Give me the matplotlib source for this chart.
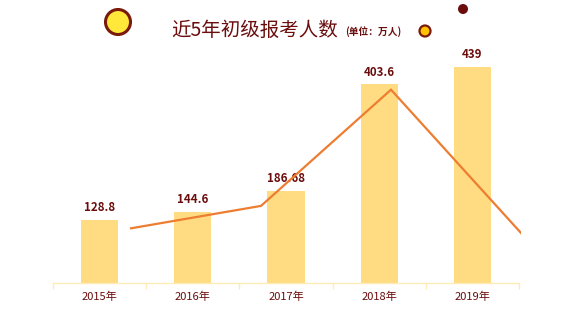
import matplotlib
matplotlib.use("Agg")
import matplotlib.pyplot as plt
from matplotlib.patches import Circle

plt.rcParams['font.family'] = ['Noto Sans CJK SC', 'DejaVu Sans']

# data
years = ['2015年', '2016年', '2017年', '2018年', '2019年']
applicants = [128.8, 144.6, 186.68, 403.6, 439]
value_labels = ['128.8', '144.6', '186.68', '403.6', '439']
growth_idx = [1, 2, 3, 4]
growth = [12.3, 29.1, 116.2, 8.8]

dark_red = '#6b0d0d'
bar_color = '#FFDC82'
line_color = '#ED7D31'

W, H = 584, 323
fig = plt.figure(figsize=(W / 100, H / 100), dpi=100)

#%% bars
ax = fig.add_axes([53 / W, 40 / H, 466 / W, 246 / H])
x = range(len(years))
ax.bar(x, applicants, width=0.4, color=bar_color, zorder=2)
for i, (v, lab) in enumerate(zip(applicants, value_labels)):
    ax.text(i, v + 12, lab, ha='center', va='bottom', fontsize=8.3,
            fontweight='bold', color=dark_red)
ax.set_xlim(-0.5, len(years) - 0.5)
ax.set_ylim(0, 500)
ax.set_xticks(list(x))
ax.set_xticklabels(years, fontsize=8, color=dark_red)
ax.tick_params(axis='x', length=0, pad=6)
ax.set_xticks([i - 0.5 for i in range(len(years) + 1)], minor=True)
ax.tick_params(axis='x', which='minor', length=4, color='#FFEBB5', width=1)
ax.set_yticks([])
for s in ['top', 'right', 'left']:
    ax.spines[s].set_visible(False)
ax.spines['bottom'].set_color('#FFEBB5')
ax.spines['bottom'].set_linewidth(1)

#%% growth line on its own axes
ax2 = fig.add_axes([1 / W, 40 / H, 520 / W, 246 / H])
ax2.patch.set_alpha(0)
ax2.plot(growth_idx, growth, color=line_color, lw=1.6, solid_joinstyle='miter', zorder=3)
ax2.set_xlim(0, 4)
ax2.set_ylim(-28.7, 155.7)
ax2.axis('off')

#%% title and decorations
fig.text(255 / W, 1 - 30 / H, '近5年初级报考人数', ha='center', va='center',
         fontsize=14, color=dark_red)
fig.text(345 / W, 1 - 32 / H, '(单位：万人)', ha='left', va='center',
         fontsize=7, fontweight='bold', color=dark_red)

deco = fig.add_axes([0, 0, 1, 1])
deco.set_xlim(0, W)
deco.set_ylim(H, 0)
deco.axis('off')
deco.add_patch(Circle((118, 22), 12.5, facecolor='#FFE83A', edgecolor='#7a1a0a', lw=2.2))
deco.add_patch(Circle((425, 31), 5.5, facecolor='#FFC300', edgecolor='#7a1a0a', lw=1.6))
deco.add_patch(Circle((463, 9), 5, facecolor='#6b0d0d', edgecolor='none'))

fig.savefig('out.png', dpi=100)
